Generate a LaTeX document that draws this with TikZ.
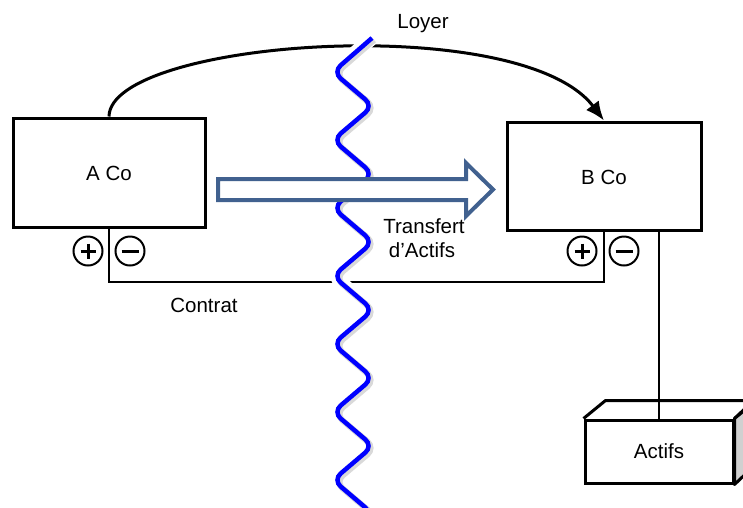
\documentclass[tikz,border=0pt]{standalone}
\usepackage{fontspec}
\setmainfont{Liberation Sans}
\usetikzlibrary{arrows.meta,calc}
\definecolor{wavecol}{RGB}{0,0,255}
\definecolor{arrowedge}{RGB}{65,97,143}
\definecolor{sidegray}{RGB}{208,208,208}

% zig-zag border line with rounded turns
\newcommand\borderwave{(372,38) -- (333,72) -- (373,106) -- (333,140) -- (373,174)
  -- (333,208) -- (373,242) -- (333,276) -- (373,310) -- (333,344) -- (373,378)
  -- (333,412) -- (373,446) -- (333,480) -- (373,514) -- (333,548)}

\begin{document}
\begin{tikzpicture}[x=1pt,y=-1pt,
  font=\fontsize{20.5}{24}\selectfont,
  company/.style={draw, line width=3pt, inner sep=0pt, fill=white, text depth=0pt},
  pm/.style={circle, draw, line width=2pt, minimum size=29pt, inner sep=0pt},
  plussign/.style={pm, path picture={
      \draw[line width=3pt] ($(path picture bounding box.center)+(-7.5,0)$) -- ++(15,0);
      \draw[line width=3pt] ($(path picture bounding box.center)+(0,-7.5)$) -- ++(0,15);}},
  minussign/.style={pm, path picture={
      \draw[line width=3pt] ($(path picture bounding box.center)+(-8.5,0)$) -- ++(17,0);}},
  lbl/.style={inner sep=0pt}]
\useasboundingbox (0,0) rectangle (743,507);
\clip (0,0) rectangle (743,507);

% companies
\node[company, minimum width=192pt, minimum height=109pt] (aco) at (109,172.5) {\raisebox{-2.5pt}{A Co}};
\node[company, minimum width=194pt, minimum height=108pt] (bco) at (604,176) {\raisebox{-2pt}{B Co}};

% assets block (front face as node, top and side faces drawn around it)
\node[draw, line width=3pt, inner sep=0pt, minimum width=148pt, minimum height=63pt, text depth=0pt] (actifs) at (659,451.5) {Actifs};
\draw[line width=3pt, line join=round] (actifs.north west) -- ++(22,-18) -- ++(148,0) -- (actifs.north east);
\draw[line width=3pt, line join=round, fill=sidegray] (actifs.north east) -- ++(22,-18) -- ++(0,63) -- (actifs.south east) -- cycle;

% link from B Co to the assets
\draw[line width=2pt] (actifs.north |- bco.south) -- (actifs.north);

% rent payment
\draw[line width=3pt, -{Latex[length=19pt,width=16pt]}]
  (aco.north) .. controls (110,40) and (520,10) .. (bco.north);

% contract between the two companies
\draw[line width=2pt] (aco.south) -- ++(0,53) -| (bco.south);

% plus / minus markers
\node[plussign] (aplus) at (88,251) {};
\node[minussign] (aminus) at (130,251) {};
\node[plussign] (bplus) at (582,251) {};
\node[minussign] (bminus) at (624,251) {};

% border line with halo and soft shadow
\draw[white, line width=14pt, line join=round, rounded corners=10pt] \borderwave;
\draw[black, opacity=0.15, line width=6pt, rounded corners=10pt, shift={(2,2)}] \borderwave;
\draw[wavecol, line width=4.5pt, rounded corners=10pt] \borderwave;

% asset transfer block arrow
\draw[arrowedge, line width=4pt, fill=white, line join=miter]
  (218,179) -- (466,179) -- (466,163) -- (493,189.5) -- (466,216) -- (466,200) -- (218,200) -- cycle;

% labels
\node[lbl] (loyer) at (423,24) {Loyer};
\node[lbl] (transfert) at (424,226) {Transfert};
\node[lbl] (dactifs) at (422,250) {d’Actifs};
\node[lbl] (contrat) at (204,305) {Contrat};
\end{tikzpicture}
\end{document}
